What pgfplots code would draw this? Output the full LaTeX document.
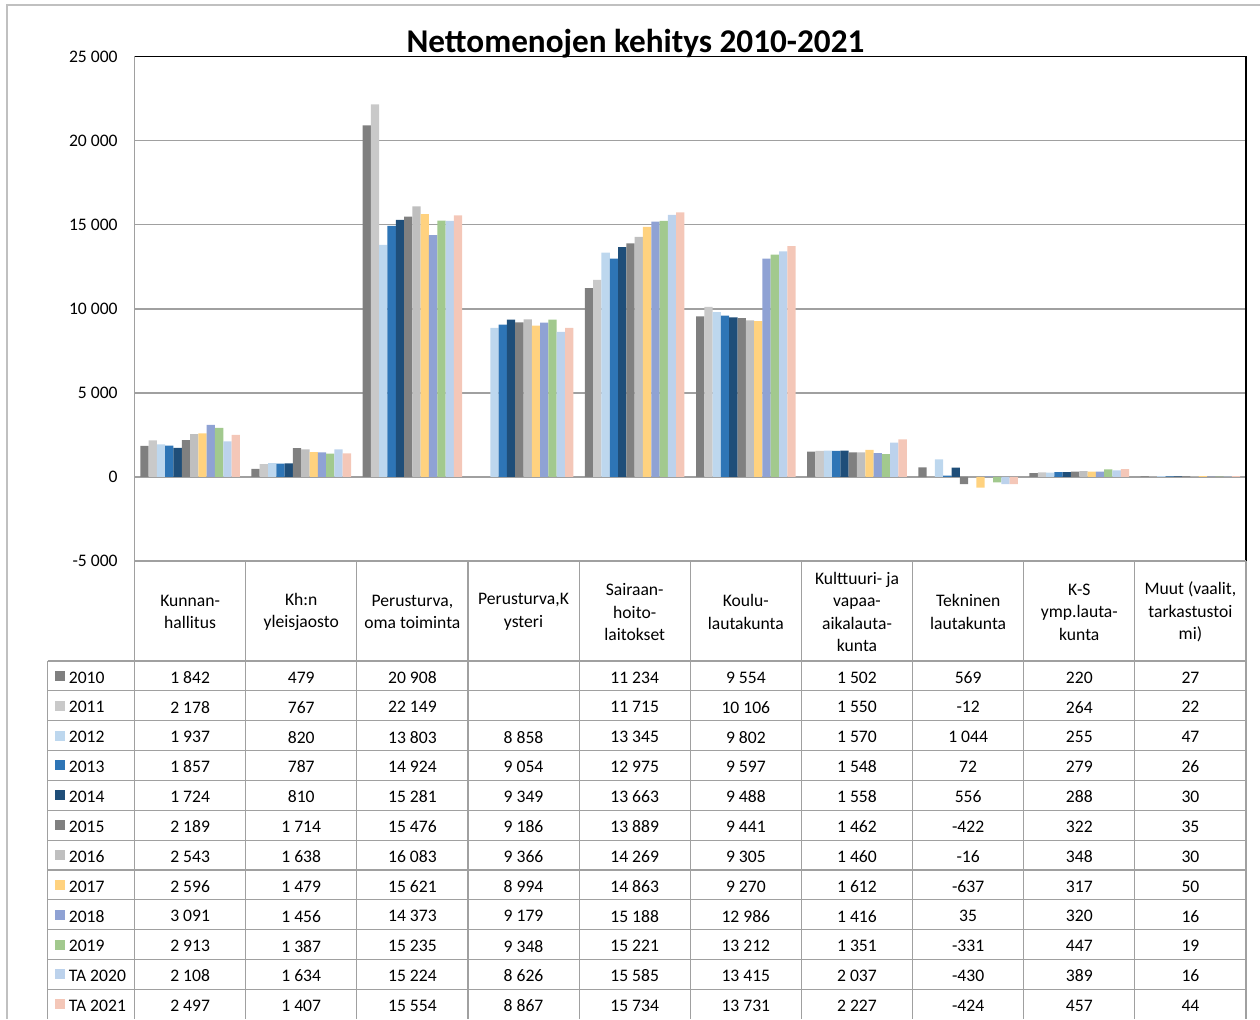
\documentclass[border=0pt]{standalone}
\usepackage{pgfplots}
\pgfplotsset{compat=1.18}
\usepackage{pgfplotstable}
\usepackage{fontspec}
\setmainfont{Carlito}

\definecolor{c10}{HTML}{7F7F7F}
\definecolor{c11}{HTML}{C9C9C9}
\definecolor{c12}{HTML}{BDD7EE}
\definecolor{c13}{HTML}{2E75B6}
\definecolor{c14}{HTML}{1F4E79}
\definecolor{c15}{HTML}{808080}
\definecolor{c16}{HTML}{BFBFBF}
\definecolor{c17}{HTML}{FFD27F}
\definecolor{c18}{HTML}{8FA2D4}
\definecolor{c19}{HTML}{A2C98E}
\definecolor{c20}{HTML}{BCD2EC}
\definecolor{c21}{HTML}{F4C7B8}
\definecolor{gridgray}{HTML}{A0A0A0}
\definecolor{framegray}{HTML}{C0C0C0}

% rows = categories, columns = years (TA 2020, TA 2021 = y20, y21)
\pgfplotstableread{
x y10 y11 y12 y13 y14 y15 y16 y17 y18 y19 y20 y21
0 1842 2178 1937 1857 1724 2189 2543 2596 3091 2913 2108 2497
1 479 767 820 787 810 1714 1638 1479 1456 1387 1634 1407
2 20908 22149 13803 14924 15281 15476 16083 15621 14373 15235 15224 15554
3 nan nan 8858 9054 9349 9186 9366 8994 9179 9348 8626 8867
4 11234 11715 13345 12975 13663 13889 14269 14863 15188 15221 15585 15734
5 9554 10106 9802 9597 9488 9441 9305 9270 12986 13212 13415 13731
6 1502 1550 1570 1548 1558 1462 1460 1612 1416 1351 2037 2227
7 569 -12 1044 72 556 -422 -16 -637 35 -331 -430 -424
8 220 264 255 279 288 322 348 317 320 447 389 457
9 27 22 47 26 30 35 30 50 16 19 16 44
}\data

\pgfkeys{/pgf/number format/.cd, 1000 sep={\ }, assume math mode=true}
\def\nanstr{nan}
\newcommand\tfont{\fontsize{8.8}{11.25}\selectfont}

\begin{document}
\begin{tikzpicture}
\useasboundingbox (0,0) rectangle (630pt,-509.5pt);
\begin{axis}[
    at={(67.25pt,-280.5pt)}, anchor=south west,
    scale only axis,
    width=555.75pt, height=252.25pt,
    xmin=-0.5, xmax=9.5,
    ymin=-5000, ymax=25000,
    ytick={-5000,0,...,25000},
    scaled y ticks=false,
    xtick=\empty,
    major tick length=0pt,
    ymajorgrids,
    grid style={gridgray, line width=0.8pt},
    axis line style={draw=none},
    yticklabel style={anchor=east, inner sep=0pt, xshift=-8.25pt, font=\tfont},
    ybar=0pt, bar width=4.15pt,
]
\pgfplotsinvokeforeach{10,...,21}{
  \addplot[fill=c#1, draw=none] table[x=x, y=y#1] {\data};
}
\end{axis}

\begin{scope}[x=0.5pt, y=-0.5pt]
  % outer frame
  \draw[framegray, line width=1pt] (7,1019) -- (7,5) -- (1260,5);
  % plot frame
  \draw[black, line width=0.8pt] (134.5,56.5) -- (1246,56.5) -- (1246,561);
  \draw[gridgray, line width=0.8pt] (134.5,56.5) -- (134.5,1019);
  \draw[gridgray, line width=0.8pt] (134.5,561) -- (1246,561);
  % title
  \node[font=\fontsize{16.6}{20}\selectfont\bfseries, anchor=base] at (635.5,52) {Nettomenojen kehitys 2010-2021};
  % table grid
  \foreach \k in {1,...,10} {
    \draw[gridgray, line width=0.6pt] ({134.5+111.15*\k},561) -- ({134.5+111.15*\k},1019);
  }
  \draw[gridgray, line width=0.6pt] (47.7,661) -- (47.7,1019);
  \foreach \k in {0,...,11} {
    \draw[gridgray, line width=0.6pt] (47.7,{661+29.85*\k}) -- (1246,{661+29.85*\k});
  }
  % header
  \foreach \c/\t in {0/{Kunnan-\\hallitus}, 1/{Kh:n\\yleisjaosto}, 2/{Perusturva,\\oma toiminta},
      3/{Perusturva,K\\ysteri}, 4/{Sairaan-\\hoito-\\laitokset}, 5/{Koulu-\\lautakunta},
      6/{Kulttuuri- ja\\vapaa-\\aikalauta-\\kunta}, 7/{Tekninen\\lautakunta},
      8/{K-S\\ymp.lauta-\\kunta}, 9/{Muut (vaalit,\\tarkastustoi\\mi)}} {
    \node[font=\tfont, align=center, inner sep=0pt] at ({190.1+111.15*\c},612) {\t};
  }
  % rows
  \foreach \s/\lab [count=\k from 0] in {10/2010, 11/2011, 12/2012, 13/2013, 14/2014, 15/2015,
      16/2016, 17/2017, 18/2018, 19/2019, 20/TA 2020, 21/TA 2021} {
    \fill[c\s] (55,{661+29.85*(\k+0.5)-5}) rectangle (65,{661+29.85*(\k+0.5)+5});
    \node[font=\tfont, anchor=west, inner sep=0pt] at (68.5,{662.5+29.85*(\k+0.5)}) {\lab};
    \foreach \c in {0,...,9} {
      \pgfplotstablegetelem{\c}{y\s}\of\data
      \ifx\pgfplotsretval\nanstr\else
        \node[font=\tfont, inner sep=0pt] at ({190.1+111.15*\c},{662.5+29.85*(\k+0.5)})
          {\pgfmathprintnumber{\pgfplotsretval}};
      \fi
    }
  }
\end{scope}
\end{tikzpicture}
\end{document}
